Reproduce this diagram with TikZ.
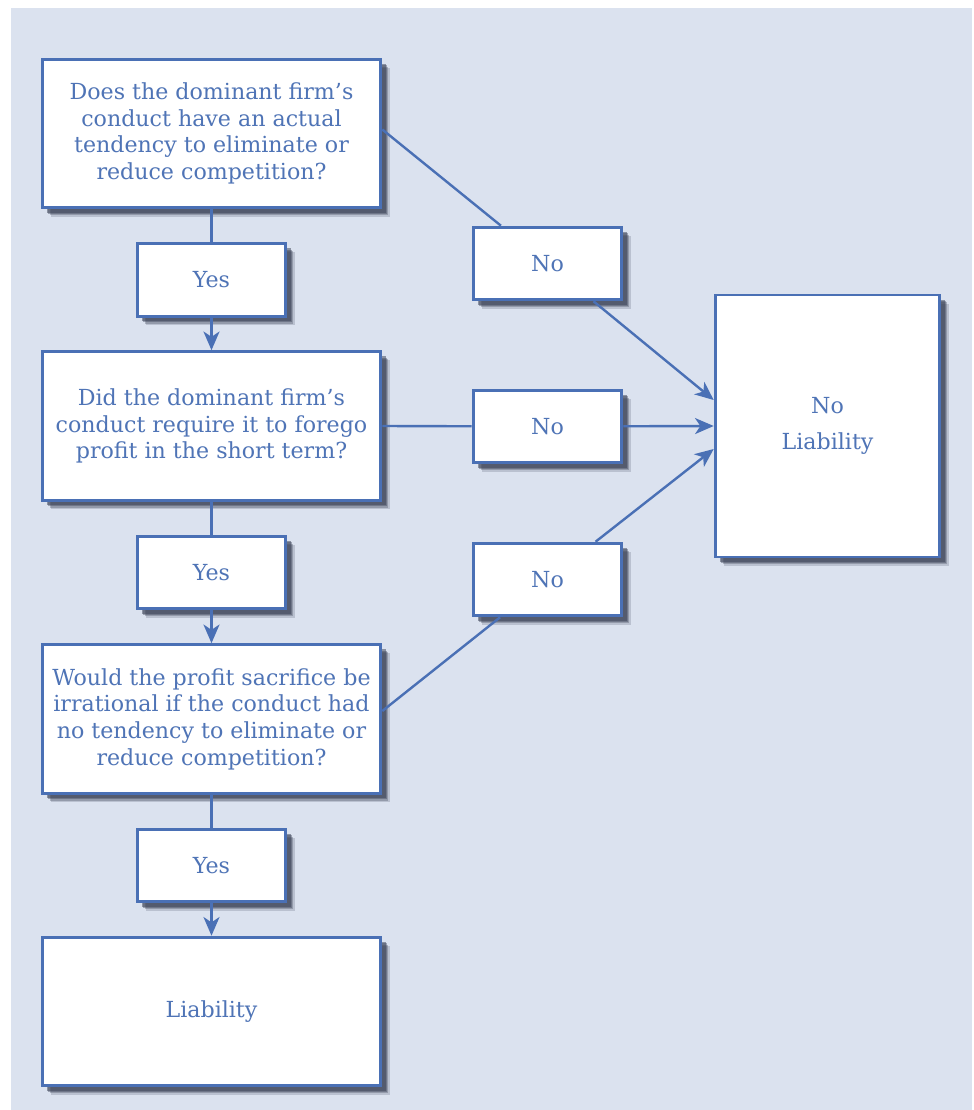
\documentclass[tikz,border=0pt]{standalone}
\usepackage{fontspec}
\setmainfont{DejaVu Serif}
\usetikzlibrary{shadows,arrows.meta,calc}
\definecolor{bluec}{HTML}{4A70B5}
\definecolor{textc}{HTML}{4F74B6}
\definecolor{bgc}{HTML}{DBE2EF}
\definecolor{shadc}{HTML}{3A4155}
\tikzset{
  box/.style={draw=bluec, line width=2.2pt, fill=white, text=textc, align=center,
    font=\fontsize{16.6}{20}\selectfont, inner sep=0pt,
    general shadow={shadow xshift=6.5pt, shadow yshift=-6.5pt, fill=shadc, opacity=0.2},
    general shadow={shadow xshift=5.5pt, shadow yshift=-5.5pt, fill=shadc, opacity=0.3},
    general shadow={shadow xshift=4.5pt, shadow yshift=-4.5pt, fill=shadc, opacity=0.4},
    general shadow={shadow xshift=3.5pt, shadow yshift=-3.5pt, fill=shadc, opacity=0.5}},
  qbox/.style={box, minimum width=254pt, minimum height=111.5pt},
  ansbox/.style={box, minimum width=111.5pt, minimum height=54.5pt},
  conn/.style={draw=bluec, line width=1.8pt},
  arr/.style={conn, -{Stealth[length=14pt, width=12pt, inset=4pt]}}
}
\begin{document}
\begin{tikzpicture}[x=0.75pt, y=-0.75pt]
\useasboundingbox (0,0) rectangle (974,1110);
\fill[bgc] (11,8) rectangle (972,1110);

\node[qbox] (q1) at (211.5,133.5) {Does the dominant firm’s\\conduct have an actual\\tendency to eliminate or\\reduce competition?};
\node[ansbox] (yes1) at (211.5,280) {Yes};
\node[qbox] (q2) at (211.5,426) {Did the dominant firm’s\\conduct require it to forego\\profit in the short term?};
\node[ansbox] (yes2) at (211.5,572.5) {Yes};
\node[qbox] (q3) at (211.5,719) {Would the profit sacrifice be\\irrational if the conduct had\\no tendency to eliminate or\\reduce competition?};
\node[ansbox] (yes3) at (211.5,865.5) {Yes};
\node[qbox] (liab) at (211.5,1011.5) {Liability};

\node[ansbox] (no1) at (547.5,263.5) {No};
\node[ansbox] (no2) at (547.5,426.5) {No};
\node[ansbox] (no3) at (547.5,579.5) {No};
\node[box, minimum width=168.5pt, minimum height=196.5pt] (noliab) at (827.5,426) {No\\[7pt]Liability};

\draw[conn] (q1) -- (yes1);
\draw[arr] (yes1) -- (q2);
\draw[conn] (q2) -- (yes2);
\draw[arr] (yes2) -- (q3);
\draw[conn] (q3) -- (yes3);
\draw[arr] (yes3) -- (liab);

\draw[conn] ($(q1.east)+(0,-4)$) -- (no1);
\draw[arr] (no1) -- ($(noliab.west)+(0,-26)$);
\draw[conn] (q2.east) -- (no2);
\draw[arr] (no2) -- (noliab.west);
\draw[conn] ($(q3.east)+(0,-8)$) -- (no3);
\draw[arr] (no3) -- ($(noliab.west)+(0,23)$);
\end{tikzpicture}
\end{document}
